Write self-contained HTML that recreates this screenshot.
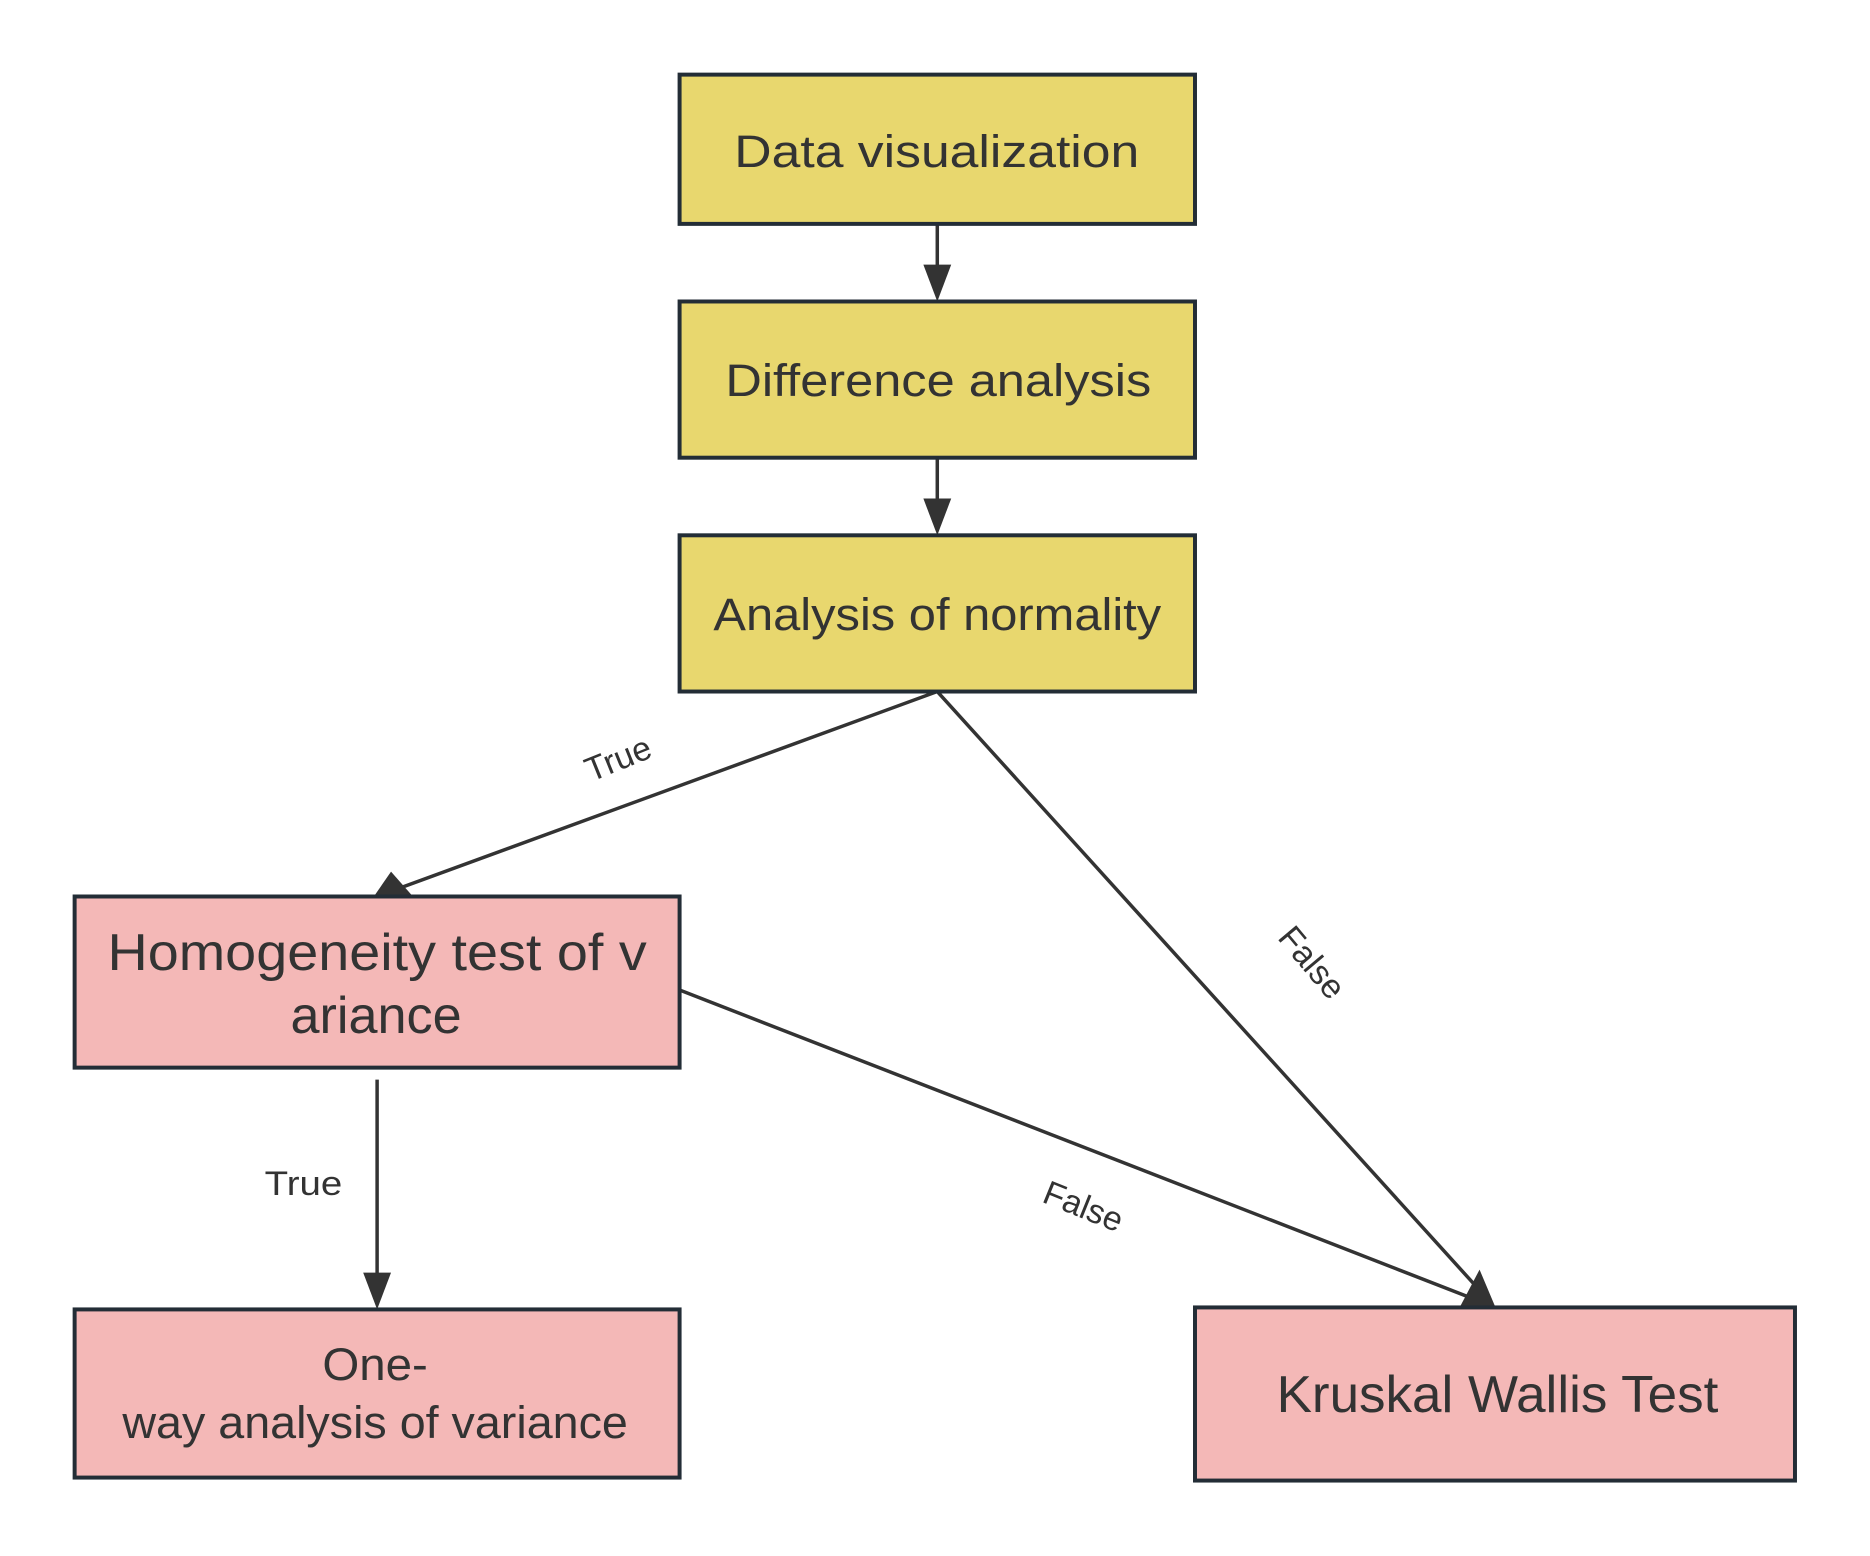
<!DOCTYPE html>
<html><head><meta charset="utf-8"><style>html,body{margin:0;padding:0;background:#fff}svg{display:block}</style></head>
<body>
<svg width="1870" height="1556" viewBox="0 0 1870 1556" xmlns="http://www.w3.org/2000/svg" font-family="'Liberation Sans', 'DejaVu Sans', sans-serif" fill="#333">
<g transform="scale(0.995)">
<g stroke="#333" stroke-width="3.5" fill="none">
<line x1="942" y1="225" x2="942" y2="290"/>
<line x1="942" y1="460" x2="942" y2="525"/>
<line x1="942" y1="695" x2="395" y2="895"/>
<line x1="942" y1="695" x2="1490" y2="1300"/>
<line x1="683" y1="995" x2="1480" y2="1305"/>
<line x1="379" y1="1085" x2="379" y2="1300"/>
</g>
<g fill="#333">
<polygon points="928,266 956,266 942,303"/>
<polygon points="928,501 956,501 942,538"/>
<polygon points="365,1279 393,1279 379,1316"/>
<polygon points="373,905 393,876 415,901"/>
<polygon points="1468,1312 1503,1314 1487,1276"/>
</g>
<rect x="683" y="75" width="518" height="150" fill="#e8d76e" stroke="#232d36" stroke-width="4"/>
<rect x="683" y="303" width="518" height="157" fill="#e8d76e" stroke="#232d36" stroke-width="4"/>
<rect x="683" y="538" width="518" height="157" fill="#e8d76e" stroke="#232d36" stroke-width="4"/>
<rect x="75" y="901" width="608" height="172" fill="#f4b8b7" stroke="#232d36" stroke-width="4"/>
<rect x="75" y="1316" width="608" height="169" fill="#f4b8b7" stroke="#232d36" stroke-width="4"/>
<rect x="1201" y="1314" width="603" height="174" fill="#f4b8b7" stroke="#232d36" stroke-width="4"/>
<g font-size="46">
<text x="738" y="168" textLength="407" lengthAdjust="spacingAndGlyphs">Data visualization</text>
<text x="729" y="398" textLength="428" lengthAdjust="spacingAndGlyphs">Difference analysis</text>
<text x="717" y="633" textLength="450" lengthAdjust="spacingAndGlyphs">Analysis of normality</text>
</g>
<g font-size="52">
<text x="108" y="975" textLength="542" lengthAdjust="spacingAndGlyphs">Homogeneity test of v</text>
<text x="292" y="1038" textLength="172" lengthAdjust="spacingAndGlyphs">ariance</text>
<text x="1283" y="1419" textLength="444" lengthAdjust="spacingAndGlyphs">Kruskal Wallis Test</text>
</g>
<g font-size="46">
<text x="324" y="1387" textLength="106" lengthAdjust="spacingAndGlyphs">One-</text>
<text x="123" y="1445" textLength="508" lengthAdjust="spacingAndGlyphs">way analysis of variance</text>
</g>
<g font-size="34">
<text x="266" y="1201" textLength="78" lengthAdjust="spacingAndGlyphs">True</text>
<text transform="translate(621,762) rotate(-22)" text-anchor="middle" y="12">True</text>
<text transform="translate(1319,967) rotate(50)" text-anchor="middle" y="12">False</text>
<text transform="translate(1089,1212) rotate(22)" text-anchor="middle" y="12">False</text>
</g>
</g>
</svg>
</body></html>
